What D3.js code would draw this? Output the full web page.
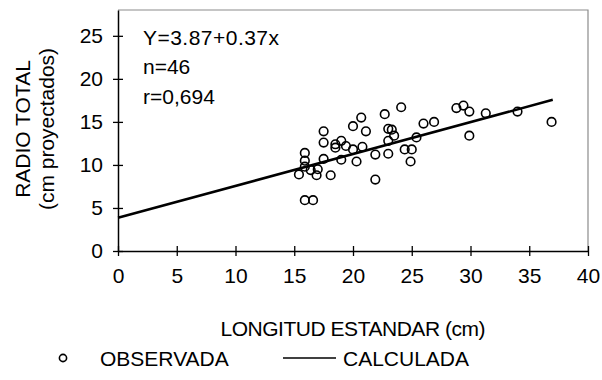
<!DOCTYPE html>
<html>
<head>
<meta charset="utf-8">
<script src="https://cdn.jsdelivr.net/npm/d3@7"></script>
<style>
  body { margin: 0; background: #fff; }
  svg { display: block; font-family: "Liberation Sans", Arial, sans-serif; }
</style>
</head>
<body>
<svg id="chart" width="602" height="380"></svg>
<script>
// Observed standard length (cm) vs. total radius (cm, projected)
const obsX = [20.7, 20.0, 21.1, 17.5, 17.5, 18.5, 19.0, 19.4, 18.5, 20.0,
              20.8, 15.9, 15.9, 17.5, 19.0, 20.3, 15.9, 16.4, 17.0, 15.4,
              16.9, 18.1, 15.9, 16.6, 24.1, 22.7, 23.0, 23.3, 23.5, 23.0,
              26.0, 26.9, 25.4, 21.9, 23.0, 24.4, 25.0, 24.9, 21.9, 28.8,
              29.4, 29.9, 31.3, 29.9, 34.0, 36.9];
const obsY = [15.5, 14.5, 13.9, 13.9, 12.6, 12.4, 12.8, 12.2, 12.0, 11.8,
              12.1, 11.4, 10.5, 10.7, 10.6, 10.4, 9.8, 9.4, 9.5, 8.9,
              8.8, 8.8, 5.9, 5.9, 16.7, 15.9, 14.2, 14.1, 13.4, 12.8,
              14.8, 15.0, 13.2, 11.2, 11.3, 11.8, 11.8, 10.4, 8.3, 16.6,
              16.9, 16.2, 16.0, 13.4, 16.2, 15.0];

// Fitted regression Y = a + b·x
const intercept = 3.87;
const slope = 0.37;
const fitX = [0, 37];

const xTicks = [0, 5, 10, 15, 20, 25, 30, 35, 40];
const yTicks = [0, 5, 10, 15, 20, 25];
const statsLines = ["Y=3.87+0.37x", "n=46", "r=0,694"];

const xTitle = "LONGITUD ESTANDAR (cm)";
const yTitle = ["RADIO TOTAL", "(cm proyectados)"];
const legendLabels = ["OBSERVADA", "CALCULADA"];

const FONT = "Liberation Sans, Arial, sans-serif";
const FS = 21;

const svg = d3.select("#chart");
const m = { left: 118, right: 588, top: 10, bottom: 251 };

const x = d3.scaleLinear().domain([0, 40]).range([m.left, m.right]);
const y = d3.scaleLinear().domain([0, 28]).range([m.bottom, m.top]);

// plot frame (top and right edges in gray)
svg.append("path")
  .attr("d", `M${m.left},${m.top}H${m.right}V${m.bottom}`)
  .attr("fill", "none").attr("stroke", "#8c8c8c").attr("stroke-width", 1.2);

// x axis with ticks crossing the line
const gx = svg.append("g")
  .attr("transform", `translate(0,${m.bottom})`)
  .call(d3.axisBottom(x).tickValues(xTicks).tickSize(5).tickPadding(12).tickSizeOuter(0));
gx.select(".domain").attr("stroke", "#000").attr("stroke-width", 1.5);
gx.selectAll(".tick line").attr("y1", -5).attr("y2", 5).attr("stroke-width", 1.3);
gx.selectAll(".tick text").attr("font-size", FS).attr("fill", "#000").attr("font-family", FONT);

// y axis
const gy = svg.append("g")
  .attr("transform", `translate(${m.left},0)`)
  .call(d3.axisLeft(y).tickValues(yTicks).tickSize(5).tickPadding(10).tickSizeOuter(0));
gy.select(".domain").attr("stroke", "#000").attr("stroke-width", 1.5);
gy.selectAll(".tick line").attr("x1", -5).attr("x2", 5).attr("stroke-width", 1.3);
gy.selectAll(".tick text").attr("font-size", FS).attr("fill", "#000").attr("font-family", FONT);

// regression line
svg.append("line")
  .attr("x1", x(fitX[0])).attr("y1", y(intercept + slope * fitX[0]))
  .attr("x2", x(fitX[1])).attr("y2", y(intercept + slope * fitX[1]))
  .attr("stroke", "#000").attr("stroke-width", 2.6);

// observed points
svg.append("g").selectAll("circle")
  .data(obsX.map((d, i) => [d, obsY[i]]))
  .join("circle")
  .attr("cx", d => x(d[0])).attr("cy", d => y(d[1])).attr("r", 4.3)
  .attr("fill", "none").attr("stroke", "#000").attr("stroke-width", 1.6);

// statistics annotation
svg.append("g").selectAll("text")
  .data(statsLines)
  .join("text")
  .attr("x", 143).attr("y", (d, i) => 44.5 + i * 29.5)
  .attr("font-size", FS).attr("fill", "#000")
  .attr("textLength", (d, i) => i === 0 ? 136 : null)
  .attr("lengthAdjust", "spacing")
  .text(d => d);

// axis titles
svg.append("text")
  .attr("x", (m.left + m.right) / 2).attr("y", 336)
  .attr("text-anchor", "middle").attr("font-size", FS)
  .attr("textLength", 265).attr("lengthAdjust", "spacing")
  .text(xTitle);

svg.append("g").selectAll("text")
  .data(yTitle)
  .join("text")
  .attr("transform", (d, i) => `translate(${30 + i * 24},129) rotate(-90)`)
  .attr("text-anchor", "middle").attr("font-size", FS)
  .text(d => d);

// legend
const lg = svg.append("g");
lg.append("circle").attr("cx", 63).attr("cy", 358).attr("r", 3.6)
  .attr("fill", "none").attr("stroke", "#000").attr("stroke-width", 1.6);
lg.append("text").attr("x", 100).attr("y", 366).attr("font-size", FS).text(legendLabels[0]);
lg.append("line").attr("x1", 283).attr("x2", 336).attr("y1", 358).attr("y2", 358)
  .attr("stroke", "#000").attr("stroke-width", 1.3);
lg.append("text").attr("x", 343).attr("y", 366).attr("font-size", FS).text(legendLabels[1]);
</script>
</body>
</html>
